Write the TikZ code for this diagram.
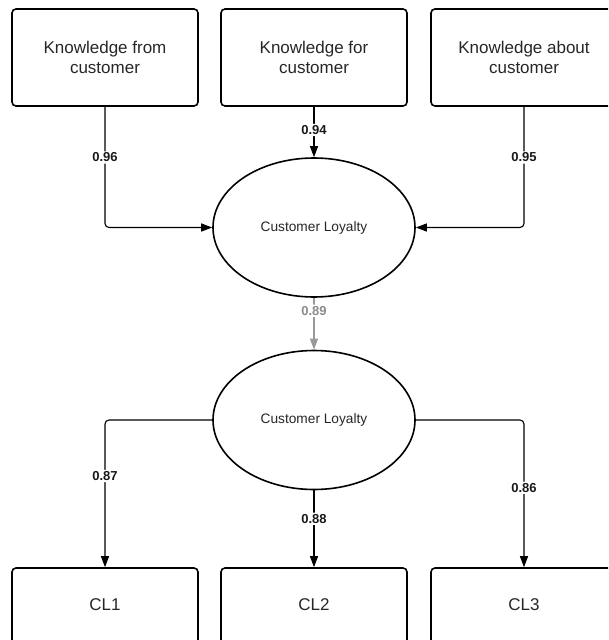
\documentclass[tikz,border=0pt]{standalone}
\usepackage{fontspec}
\setmainfont{Liberation Sans}
\usetikzlibrary{shapes.geometric,arrows.meta}

\tikzset{
  boxnode/.style={draw, line width=1.6pt, rounded corners=4pt, minimum width=186pt,
    inner sep=0pt, align=center, text=black!85, font=\fontsize{17}{20.5}\selectfont},
  latent/.style={draw, ellipse, line width=1.6pt, minimum width=202pt, minimum height=139pt,
    inner sep=0pt, text=black!85, font=\fontsize{13.7}{16}\selectfont},
  conn/.style={line width=1.1pt, rounded corners=4pt, -{Triangle[length=11pt,width=8pt]}},
  weight/.style={fill=white, inner sep=1.5pt, font=\fontsize{13}{15}\selectfont\bfseries, text=black!90},
}

\begin{document}
\begin{tikzpicture}[x=1pt, y=-1pt]
  \useasboundingbox (0,0) rectangle (608,640);
  \clip (0,0) rectangle (608,640);

  % indicator blocks on top
  \node[boxnode, minimum height=97pt] (kfrom)  at (105,57.5) {Knowledge from\\customer};
  \node[boxnode, minimum height=97pt] (kfor)   at (314,57.5) {Knowledge for\\customer};
  \node[boxnode, minimum height=97pt] (kabout) at (524,57.5) {Knowledge about\\customer};

  % latent constructs
  \node[latent] (loyA) at (314,227.5) {Customer Loyalty};
  \node[latent] (loyB) at (314,420)   {Customer Loyalty};

  % measurement items at the bottom (lower edge runs past the page)
  \node[boxnode, minimum height=80pt, text depth=6pt] (cl1) at (105,608) {CL1};
  \node[boxnode, minimum height=80pt, text depth=6pt] (cl2) at (314,608) {CL2};
  \node[boxnode, minimum height=80pt, text depth=6pt] (cl3) at (524,608) {CL3};

  % paths into the first construct
  \draw[conn] (kfrom.south) |- (loyA.west)  node[weight, pos=0.21] {0.96};
  \draw[conn] (kfor.south)  --  (loyA.north) node[weight, pos=0.46] {0.94};
  \draw[conn] (kabout.south) |- (loyA.east) node[weight, pos=0.21] {0.95};

  % structural path
  \draw[conn, draw=black!40, fill=black!40] (loyA.south) -- (loyB.north)
    node[weight, pos=0.25, text=black!45] {0.89};

  % loadings
  \draw[conn] (loyB.west)  -| (cl1.north) node[weight, pos=0.69] {0.87};
  \draw[conn] (loyB.south) --  (cl2.north) node[weight, pos=0.37] {0.88};
  \draw[conn] (loyB.east)  -| (cl3.north) node[weight, pos=0.73] {0.86};
\end{tikzpicture}
\end{document}
